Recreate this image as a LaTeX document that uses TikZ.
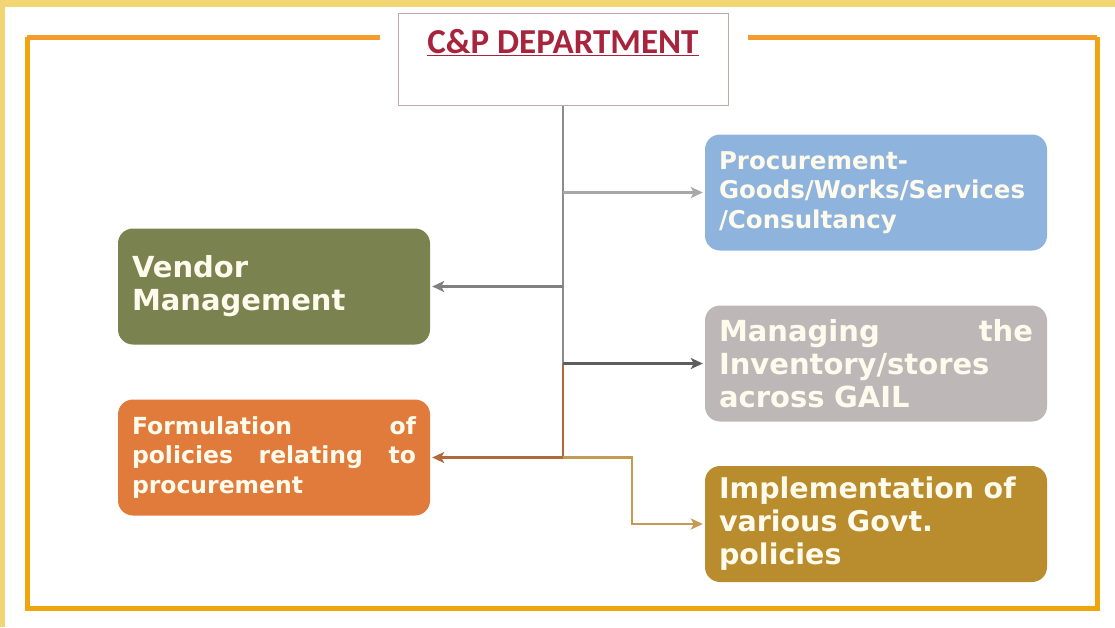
\documentclass[tikz,border=0pt]{standalone}
\usepackage{fontspec}
\setmainfont{DejaVu Sans}
\newfontfamily\boxfont{DejaVu Sans}
\newfontfamily\titlefont{Carlito}
\usetikzlibrary{arrows.meta}
\definecolor{bgyellow}{HTML}{F2D674}
\definecolor{frameorange}{HTML}{F39C2B}
\definecolor{framegold}{HTML}{EFA50E}
\definecolor{titlered}{HTML}{A8243C}
\definecolor{titleedge}{HTML}{C4A8A8}
\definecolor{cblue}{HTML}{8EB3DC}
\definecolor{colive}{HTML}{7A8350}
\definecolor{cgray}{HTML}{BDB7B8}
\definecolor{corange}{HTML}{E07B3C}
\definecolor{cgold}{HTML}{B98C2E}
\definecolor{boxtext}{HTML}{FFFBEC}
\definecolor{lproc}{HTML}{A8A8A8}
\definecolor{lvend}{HTML}{808080}
\definecolor{ltrunk}{HTML}{8C8C8C}
\definecolor{lmgr}{HTML}{5E5E5E}
\definecolor{lbrown}{HTML}{B0693C}
\definecolor{limpl}{HTML}{C59A52}
\begin{document}
\begin{tikzpicture}[x=1pt,y=-1pt,
  card/.style={rounded corners=15pt, draw=none, text=boxtext, align=left,
    inner xsep=14pt, inner ysep=0pt, minimum height=116pt},
  leftcard/.style={card, text width=284pt},
  rightcard/.style={card, text width=314pt},
  conn/.style={line width=2.2pt},
  arr/.style={conn, -{Stealth[length=12pt,width=11pt,inset=3pt]}, shorten >=2pt},
  titlebox/.style={draw=titleedge, line width=1pt, fill=white,
    minimum width=330pt, minimum height=92pt, inner sep=0pt}
]
\useasboundingbox (0,0) rectangle (1115,627);
\fill[bgyellow] (0,0) rectangle (1115,627);
\fill[white] (5,7) rectangle (1115,627);
% frame
\draw[framegold, line width=5pt, line join=miter] (27,37) -- (27,608) -- (1097,608) -- (1097,37);
\draw[frameorange, line width=5pt] (380,37) -- (27,37);
\draw[frameorange, line width=5pt] (748,37) -- (1097,37);
% title
\node[titlebox, label={[anchor=center, yshift=-30pt, text=titlered, font=\titlefont\bfseries\fontsize{35}{38}\selectfont]north:\underline{C\&P DEPARTMENT}}] (title) at (563,59) {};
% cards
\node[rightcard, fill=cblue, font=\boxfont\bfseries\fontsize{24.5}{29.5}\selectfont] (proc) at (876,192.5)
  {Procurement-\\Goods/Works/Services\\/Consultancy};
\node[leftcard, fill=colive, font=\boxfont\bfseries\fontsize{29}{33}\selectfont] (vend) at (274,286.5)
  {Vendor\\Management};
\node[rightcard, fill=cgray, font=\boxfont\bfseries\fontsize{29}{33}\selectfont] (mgr) at (876,363.5)
  {Managing\hfill the\\Inventory/stores\\across GAIL};
\node[leftcard, fill=corange, font=\boxfont\bfseries\fontsize{23.5}{29.5}\selectfont] (form) at (274,457.5)
  {Formulation\hfill of\\policies\hfill relating\hfill to\\procurement};
\node[rightcard, fill=cgold, font=\boxfont\bfseries\fontsize{28.5}{33}\selectfont] (impl) at (876,524)
  {Implementation of\\various Govt.\\policies};
% connectors
\coordinate (jproc) at (title.south |- proc.west);
\coordinate (jvend) at (title.south |- vend.east);
\coordinate (jmgr) at (title.south |- mgr.west);
\coordinate (jform) at (title.south |- form.east);
\coordinate (elbow) at (632,457.5);
\draw[conn, ltrunk] (title.south) -- (jmgr);
\draw[conn, lbrown] (jmgr) -- (jform);
\draw[arr, lproc] (jproc) -- (proc.west);
\draw[arr, lvend] (jvend) -- (vend.east);
\draw[arr, lmgr] (jmgr) -- (mgr.west);
\draw[arr, lbrown] (jform) -- (form.east);
\draw[arr, limpl] (jform) -- (elbow) |- (impl.west);
\end{tikzpicture}
\end{document}
